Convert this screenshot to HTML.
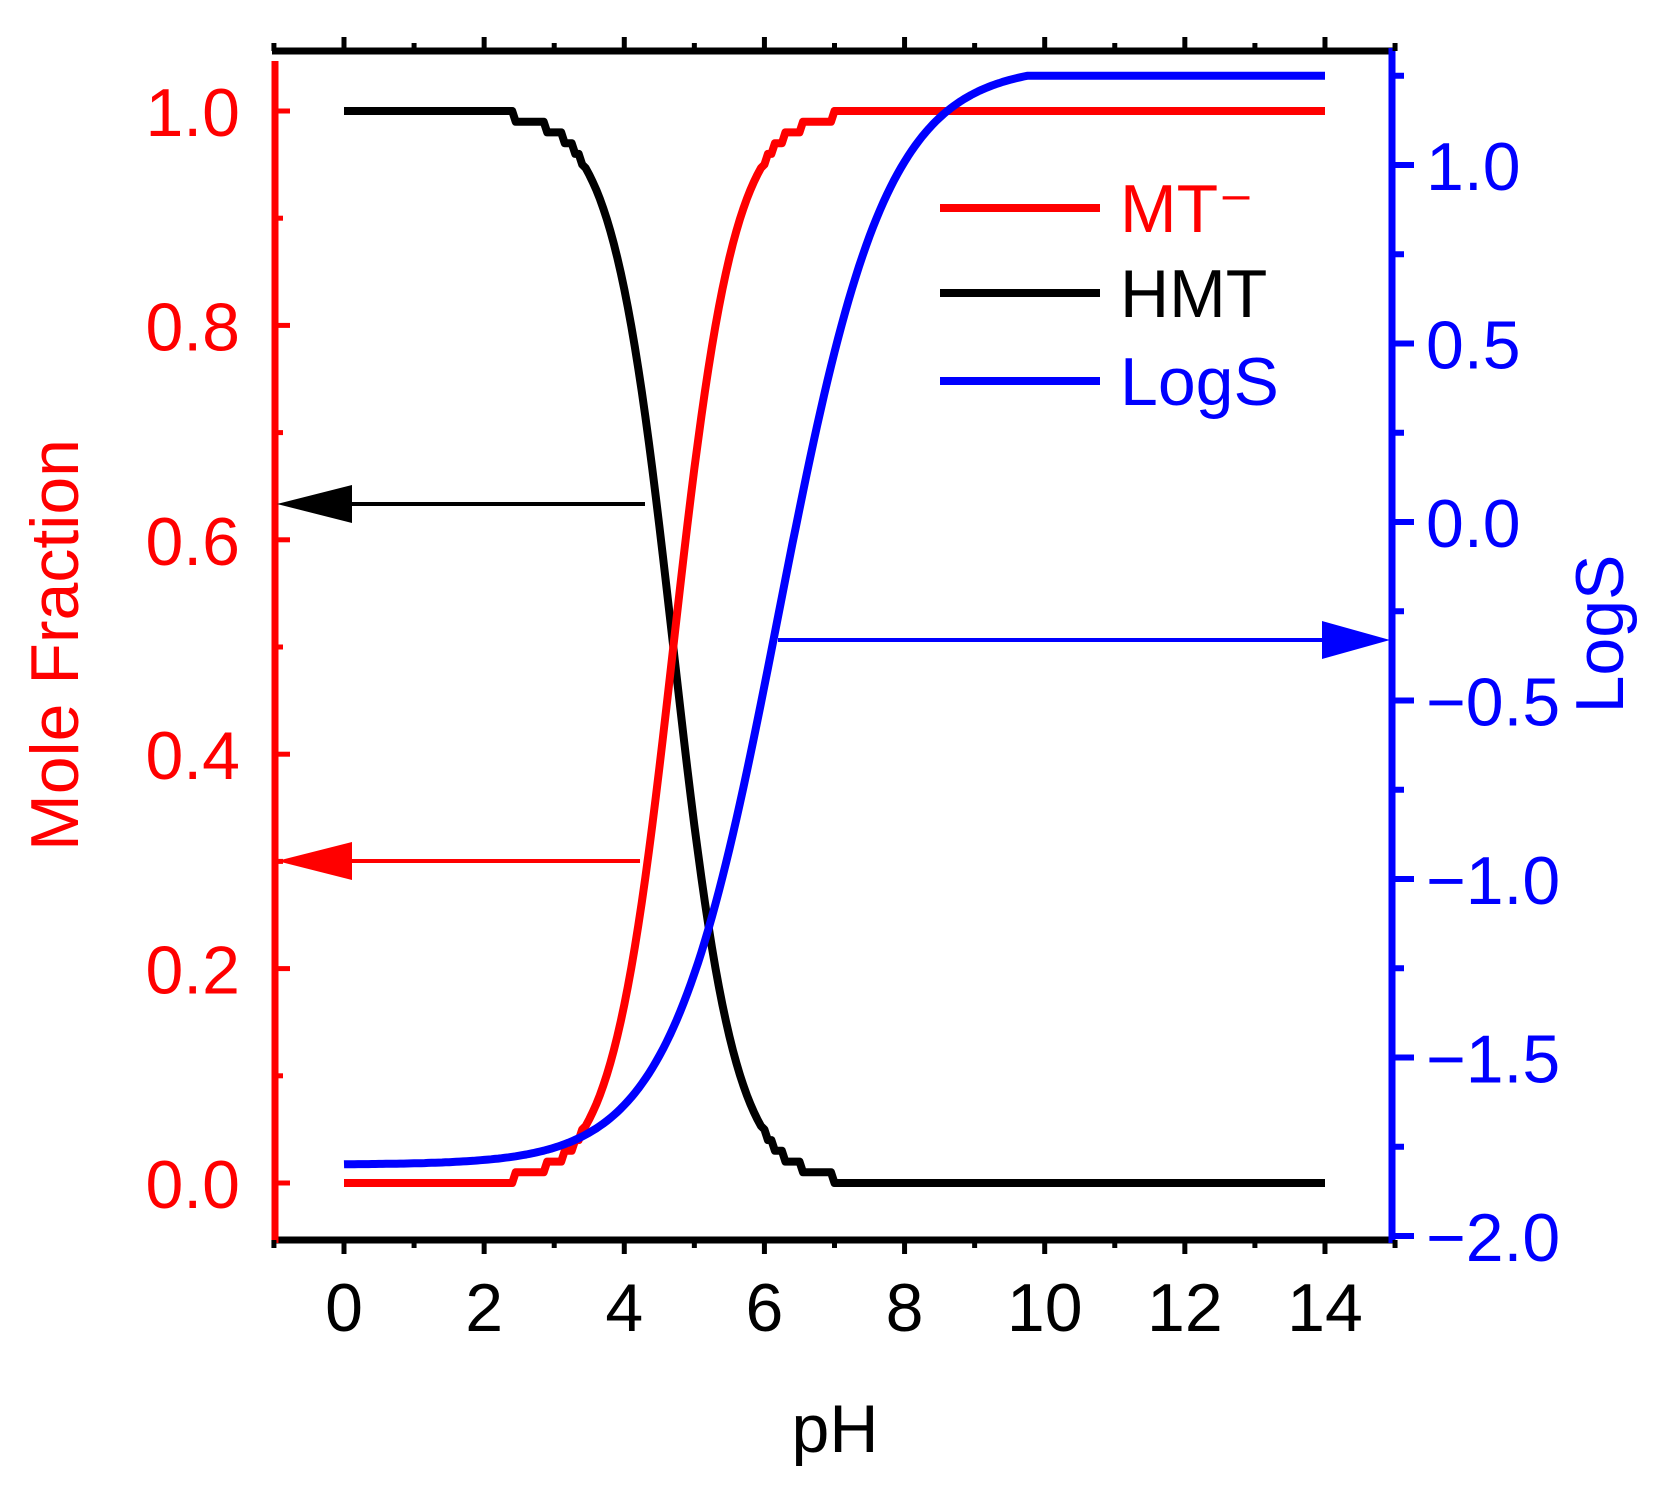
<!DOCTYPE html>
<html><head><style>body{margin:0;background:#fff}svg{display:block}text{font-family:"Liberation Sans",sans-serif}</style></head>
<body>
<svg id="s" width="1663" height="1485" viewBox="0 0 1663 1485" xmlns="http://www.w3.org/2000/svg">
<g id="g"></g>
<!-- legend -->
<line x1="940" y1="208" x2="1100" y2="208" stroke="#f00" stroke-width="8"/>
<line x1="940" y1="293" x2="1100" y2="293" stroke="#000" stroke-width="8"/>
<line x1="940" y1="381" x2="1100" y2="381" stroke="#00f" stroke-width="8"/>
<text x="1120" y="232" font-size="68" fill="#f00">MT⁻</text>
<text x="1120" y="317" font-size="68" fill="#000">HMT</text>
<text x="1120" y="405" font-size="68" fill="#00f">LogS</text>
<!-- arrows -->
<line x1="645" y1="504" x2="340" y2="504" stroke="#000" stroke-width="4"/>
<polygon points="277,504 352,485 352,523" fill="#000"/>
<line x1="640" y1="861" x2="340" y2="861" stroke="#f00" stroke-width="4"/>
<polygon points="277,861 352,842 352,880" fill="#f00"/>
<line x1="778" y1="640" x2="1330" y2="640" stroke="#00f" stroke-width="4"/>
<polygon points="1390,640 1322,621 1322,659" fill="#00f"/>
<!-- titles -->
<text transform="translate(78,645) rotate(-90)" font-size="68" fill="#f00" text-anchor="middle">Mole Fraction</text>
<text transform="translate(1623,634) rotate(-90)" font-size="68" fill="#00f" text-anchor="middle">LogS</text>
<text x="835" y="1452" font-size="68" text-anchor="middle">pH</text>
</svg>
<script>
var g=document.getElementById('g'),h='';
function X(p){return 344+70.07*p}
function YL(v){return 1183-1072*v}
function YR(s){return 165+(1-s)*357}
h+='<line x1="272" y1="51" x2="1395" y2="51" stroke="#000" stroke-width="7"/>';
h+='<line x1="272" y1="1240" x2="1395" y2="1240" stroke="#000" stroke-width="7"/>';
h+='<line x1="275" y1="61" x2="275" y2="1243" stroke="#f00" stroke-width="7"/>';
h+='<line x1="1392" y1="48" x2="1392" y2="1243" stroke="#00f" stroke-width="7"/>';
for(var p=-1;p<=15;p++){var x=X(p),L=(p%2==0)?14:8;
h+='<line x1="'+x+'" y1="51" x2="'+x+'" y2="'+(51-L)+'" stroke="#000" stroke-width="5"/>';
h+='<line x1="'+x+'" y1="1240" x2="'+x+'" y2="'+(1240+L)+'" stroke="#000" stroke-width="5"/>';
if(p%2==0&&p>=0)h+='<text x="'+x+'" y="1331" font-size="68" text-anchor="middle">'+p+'</text>';}
for(var i=0;i<=10;i++){var v=i/10,y=YL(v);
h+='<line x1="275" y1="'+y+'" x2="'+(i%2==0?290:283)+'" y2="'+y+'" stroke="#f00" stroke-width="5"/>';
if(i%2==0)h+='<text x="240" y="'+(y+25)+'" font-size="68" fill="#f00" text-anchor="end">'+v.toFixed(1)+'</text>';}
for(var j=-8;j<=5;j++){var s=j/4,y=YR(s);
h+='<line x1="1392" y1="'+y+'" x2="'+(j%2==0?1414:1404)+'" y2="'+y+'" stroke="#00f" stroke-width="6"/>';
if(j%2==0)h+='<text x="1426" y="'+(y+25)+'" font-size="68" fill="#00f">'+(s<0?'\u2212':'')+Math.abs(s).toFixed(1)+'</text>';}
var a='',b='',c='';
for(var p=0;p<=14.001;p+=0.05){var m=1/(1+Math.pow(10,4.7-p));var q=(m<0.05||m>0.95)?Math.round(m*100)/100:m;
a+=X(p).toFixed(1)+','+YL(q).toFixed(1)+' ';b+=X(p).toFixed(1)+','+YL(1-q).toFixed(1)+' ';
var ls=-1.8+3.08/(1+Math.exp(-1.3*(p-6.2)));ls=Math.max(-1.8,Math.min(1.25,ls));
c+=X(p).toFixed(1)+','+YR(ls).toFixed(1)+' ';}
h+='<polyline points="'+b+'" fill="none" stroke="#000" stroke-width="8" stroke-linejoin="round"/>';
h+='<polyline points="'+a+'" fill="none" stroke="#f00" stroke-width="8" stroke-linejoin="round"/>';
h+='<polyline points="'+c+'" fill="none" stroke="#00f" stroke-width="8" stroke-linejoin="round"/>';
g.innerHTML=h;
</script>
</body></html>
